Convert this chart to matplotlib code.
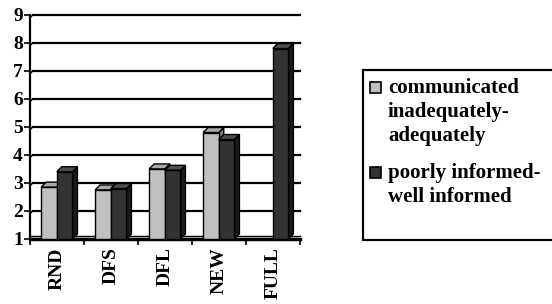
import numpy as np
import matplotlib.pyplot as plt
from matplotlib import font_manager
from matplotlib.patches import Polygon, Rectangle

categories = ['RND', 'DFS', 'DFL', 'NEW', 'FULL']
communicated = [2.85, 2.75, 3.5, 4.8, 1.0]
informed = [3.4, 2.8, 3.45, 4.55, 7.8]
series_names = ['communicated\ninadequately-\nadequately', 'poorly informed-\nwell informed']
yticks = [1, 2, 3, 4, 5, 6, 7, 8, 9]

# pick the bold Times-like face explicitly
bold_file = None
for f in font_manager.fontManager.ttflist:
    if f.name == 'Liberation Serif' and f.weight in (700, 'bold') and f.style == 'normal':
        bold_file = f.fname
if bold_file:
    fp = lambda s: font_manager.FontProperties(fname=bold_file, size=s)
else:
    fp = lambda s: font_manager.FontProperties(family='serif', weight='bold', size=s)

fig = plt.figure(figsize=(5.52, 3.04), dpi=100)
ax = fig.add_axes([0.054, 0.214, 0.489, 0.737])

x = np.arange(len(categories))
w = 0.29
ax.set_xlim(-0.5, len(categories) - 0.5)
ax.set_ylim(1, 9)

# depth offset for the fake 3D look, in data units
trans = ax.transData.inverted()
p0 = trans.transform((0, 0))
p1 = trans.transform((5, 5))
dx, dy = p1[0] - p0[0], p1[1] - p0[1]

# grid lines on the back wall
for t in yticks[1:]:
    ax.plot([-0.5 + dx * 0.6, len(categories) - 0.5], [t, t], color='black', lw=1.6,
            zorder=1, clip_on=False)
    ax.plot([-0.5, -0.5 + dx * 0.6], [t - dy * 0.6, t], color='black', lw=1.0,
            zorder=1, clip_on=False)


def bar3d(xc, h, face, side, top):
    if h <= 1:
        return
    l, r = xc - w / 2, xc + w / 2
    ax.add_patch(Polygon([(r, 1), (r + dx, 1 + dy), (r + dx, h + dy), (r, h)],
                         facecolor=side, edgecolor='black', lw=1.0, zorder=3))
    ax.add_patch(Polygon([(l, h), (l + dx, h + dy), (r + dx, h + dy), (r, h)],
                         facecolor=top, edgecolor='black', lw=1.0, zorder=3))
    ax.add_patch(Rectangle((l, 1), w, h - 1, facecolor=face, edgecolor='black',
                           lw=1.0, zorder=3))


for i in range(len(categories)):
    bar3d(x[i] - w / 2, communicated[i], '#c0c0c0', '#808080', '#a8a8a8')
    bar3d(x[i] + w / 2, informed[i], '#333333', '#1a1a1a', '#4d4d4d')

# floor
ax.plot([-0.5, len(categories) - 0.5], [1, 1], color='black', lw=2.5, zorder=2,
        clip_on=False)
ax.plot([-0.5, len(categories) - 0.5], [1 + dy * 0.5, 1 + dy * 0.5], color='black',
        lw=1.0, zorder=2, clip_on=False)

for s in ['top', 'right', 'bottom']:
    ax.spines[s].set_visible(False)
ax.spines['left'].set_linewidth(1.6)

ax.set_yticks(yticks)
ax.set_yticklabels([str(t) for t in yticks], fontproperties=fp(14))
ax.tick_params(axis='y', length=4, width=1.2, pad=1)

ax.set_xticks(np.arange(len(categories) + 1) - 0.5, minor=True)
ax.set_xticks(x)
ax.set_xticklabels(categories, rotation=90, fontproperties=fp(14))
ax.tick_params(axis='x', which='major', length=0, pad=6)
ax.tick_params(axis='x', which='minor', length=4, width=1.2)

# legend box
fig.patches.append(Rectangle((363 / 552, 64 / 304), 200 / 552, 170 / 304,
                             transform=fig.transFigure, facecolor='white',
                             edgecolor='black', lw=1.6))
colors = ['#c0c0c0', '#333333']
ys = [216, 131]
for name, c, yy in zip(series_names, colors, ys):
    fig.patches.append(Rectangle((370 / 552, (yy - 5) / 304), 11 / 552, 11 / 304,
                                 transform=fig.transFigure, facecolor=c,
                                 edgecolor='black', lw=1.2))
    fig.text(388 / 552, (yy + 10) / 304, name, fontproperties=fp(15),
             va='top', ha='left', linespacing=1.27)

fig.savefig('out.png', dpi=100)
